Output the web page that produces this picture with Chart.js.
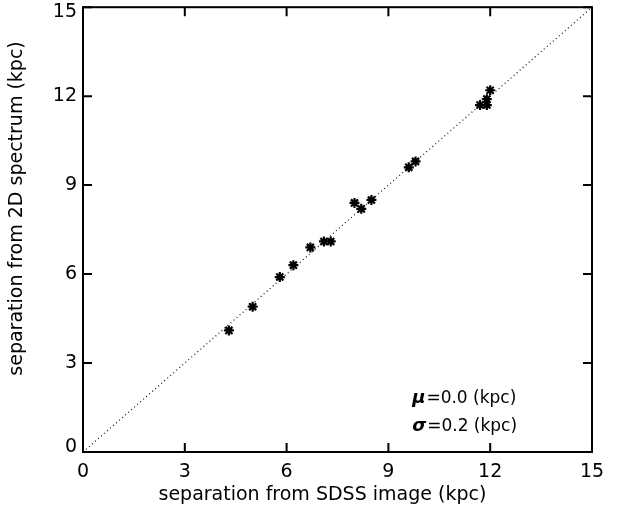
<!DOCTYPE html>
<html>
<head>
<meta charset="utf-8">
<script src="https://cdn.jsdelivr.net/npm/chart.js@4/dist/chart.umd.min.js"></script>
<style>
  html, body { margin: 0; padding: 0; background: #fff; }
  #wrap { width: 634px; height: 514px; }
</style>
</head>
<body>
<div id="wrap"><canvas id="chart" width="634" height="514"></canvas></div>
<script>
// separation measured on the SDSS image vs. the 2D spectrum (kpc)
const sdssSep = [4.3, 5.0, 5.8, 6.2, 6.7, 7.1, 7.3, 8.0, 8.2, 8.5, 9.6, 9.8, 11.7, 11.9, 11.9, 12.0];
const specSep = [4.1, 4.9, 5.9, 6.3, 6.9, 7.1, 7.1, 8.4, 8.2, 8.5, 9.6, 9.8, 11.7, 11.9, 11.7, 12.2];
const tickValues = [0, 3, 6, 9, 12, 15];
const oneToOne = [0, 15];
const statLines = [['\u03bc', '=0.0 (kpc)'], ['\u03c3', '=0.2 (kpc)']];

const fontFamily = '"DejaVu Sans", sans-serif';

const points = sdssSep.map((x, i) => ({ x: x, y: specSep[i] }));
const diag = oneToOne.map(v => ({ x: v, y: v }));

// IDL-like frame with inward ticks on all four sides, y labels kept inside the frame,
// plus the mu/sigma labels
const framePlugin = {
    id: 'frame',
    afterDraw(chart) {
        const ctx = chart.ctx;
        const area = chart.chartArea;
        const xs = chart.scales.x;
        const ys = chart.scales.y;
        const tickLen = 9;
        ctx.save();
        ctx.strokeStyle = '#000';
        ctx.lineWidth = 2;
        ctx.strokeRect(area.left, area.top, area.right - area.left, area.bottom - area.top);
        ctx.beginPath();
        tickValues.forEach(v => {
            const px = xs.getPixelForValue(v);
            ctx.moveTo(px, area.bottom); ctx.lineTo(px, area.bottom - tickLen);
            ctx.moveTo(px, area.top); ctx.lineTo(px, area.top + tickLen);
            const py = ys.getPixelForValue(v);
            ctx.moveTo(area.left, py); ctx.lineTo(area.left + tickLen, py);
            ctx.moveTo(area.right, py); ctx.lineTo(area.right - tickLen, py);
        });
        ctx.stroke();

        // y tick labels, end ones nudged inside like IDL does
        ctx.fillStyle = '#000';
        ctx.font = '19px ' + fontFamily;
        ctx.textAlign = 'right';
        ctx.textBaseline = 'middle';
        tickValues.forEach(v => {
            let py = ys.getPixelForValue(v);
            py = Math.min(Math.max(py, area.top + 5), area.bottom - 5);
            ctx.fillText(String(v), area.left - 6, py);
        });

        // statistics text
        ctx.textAlign = 'left';
        const tx = xs.getPixelForValue(9.7);
        const rows = [1.81, 0.87];
        statLines.forEach((row, i) => {
            const ty = ys.getPixelForValue(rows[i]);
            ctx.font = 'bold italic 18px ' + fontFamily;
            ctx.fillText(row[0], tx, ty);
            const w = ctx.measureText(row[0]).width;
            ctx.font = '17px ' + fontFamily;
            ctx.fillText(row[1], tx + w + 1, ty);
        });
        ctx.restore();
    }
};

new Chart(document.getElementById('chart'), {
    type: 'scatter',
    data: {
        datasets: [
            {
                label: 'one-to-one',
                type: 'line',
                data: diag,
                borderColor: '#111',
                borderWidth: 1.2,
                borderDash: [1, 3],
                pointRadius: 0,
                fill: false
            },
            {
                label: 'separation',
                data: points,
                pointStyle: 'star',
                pointRadius: 5,
                borderColor: '#000',
                backgroundColor: '#000',
                borderWidth: 2.2
            }
        ]
    },
    options: {
        responsive: false,
        animation: false,
        layout: { padding: { top: 5, right: 42, left: 0, bottom: 0 } },
        plugins: {
            legend: { display: false },
            tooltip: { enabled: false }
        },
        scales: {
            x: {
                type: 'linear',
                min: 0,
                max: 15,
                afterFit: s => { s.height = 62; s.paddingLeft = 0; s.paddingRight = 0; },
                afterBuildTicks: s => { s.ticks = tickValues.map(v => ({ value: v })); },
                grid: { display: false, drawTicks: false },
                border: { display: false },
                ticks: {
                    color: '#000',
                    padding: 9,
                    maxRotation: 0,
                    font: { family: fontFamily, size: 19 }
                },
                title: {
                    display: true,
                    // trailing spaces pull the text a bit left, as in the original
                    text: 'separation from SDSS image (kpc)     ',
                    color: '#000',
                    padding: { top: 0, bottom: 8 },
                    font: { family: fontFamily, size: 19 }
                }
            },
            y: {
                type: 'linear',
                min: 0,
                max: 15,
                afterFit: s => { s.width = 83; s.paddingTop = 0; s.paddingBottom = 0; },
                afterBuildTicks: s => { s.ticks = tickValues.map(v => ({ value: v })); },
                grid: { display: false, drawTicks: false },
                border: { display: false },
                ticks: { display: false },
                title: {
                    display: true,
                    text: '       separation from 2D spectrum (kpc)',
                    color: '#000',
                    padding: { top: 6, bottom: 0 },
                    font: { family: fontFamily, size: 19 }
                }
            }
        }
    },
    plugins: [framePlugin]
});
</script>
</body>
</html>
